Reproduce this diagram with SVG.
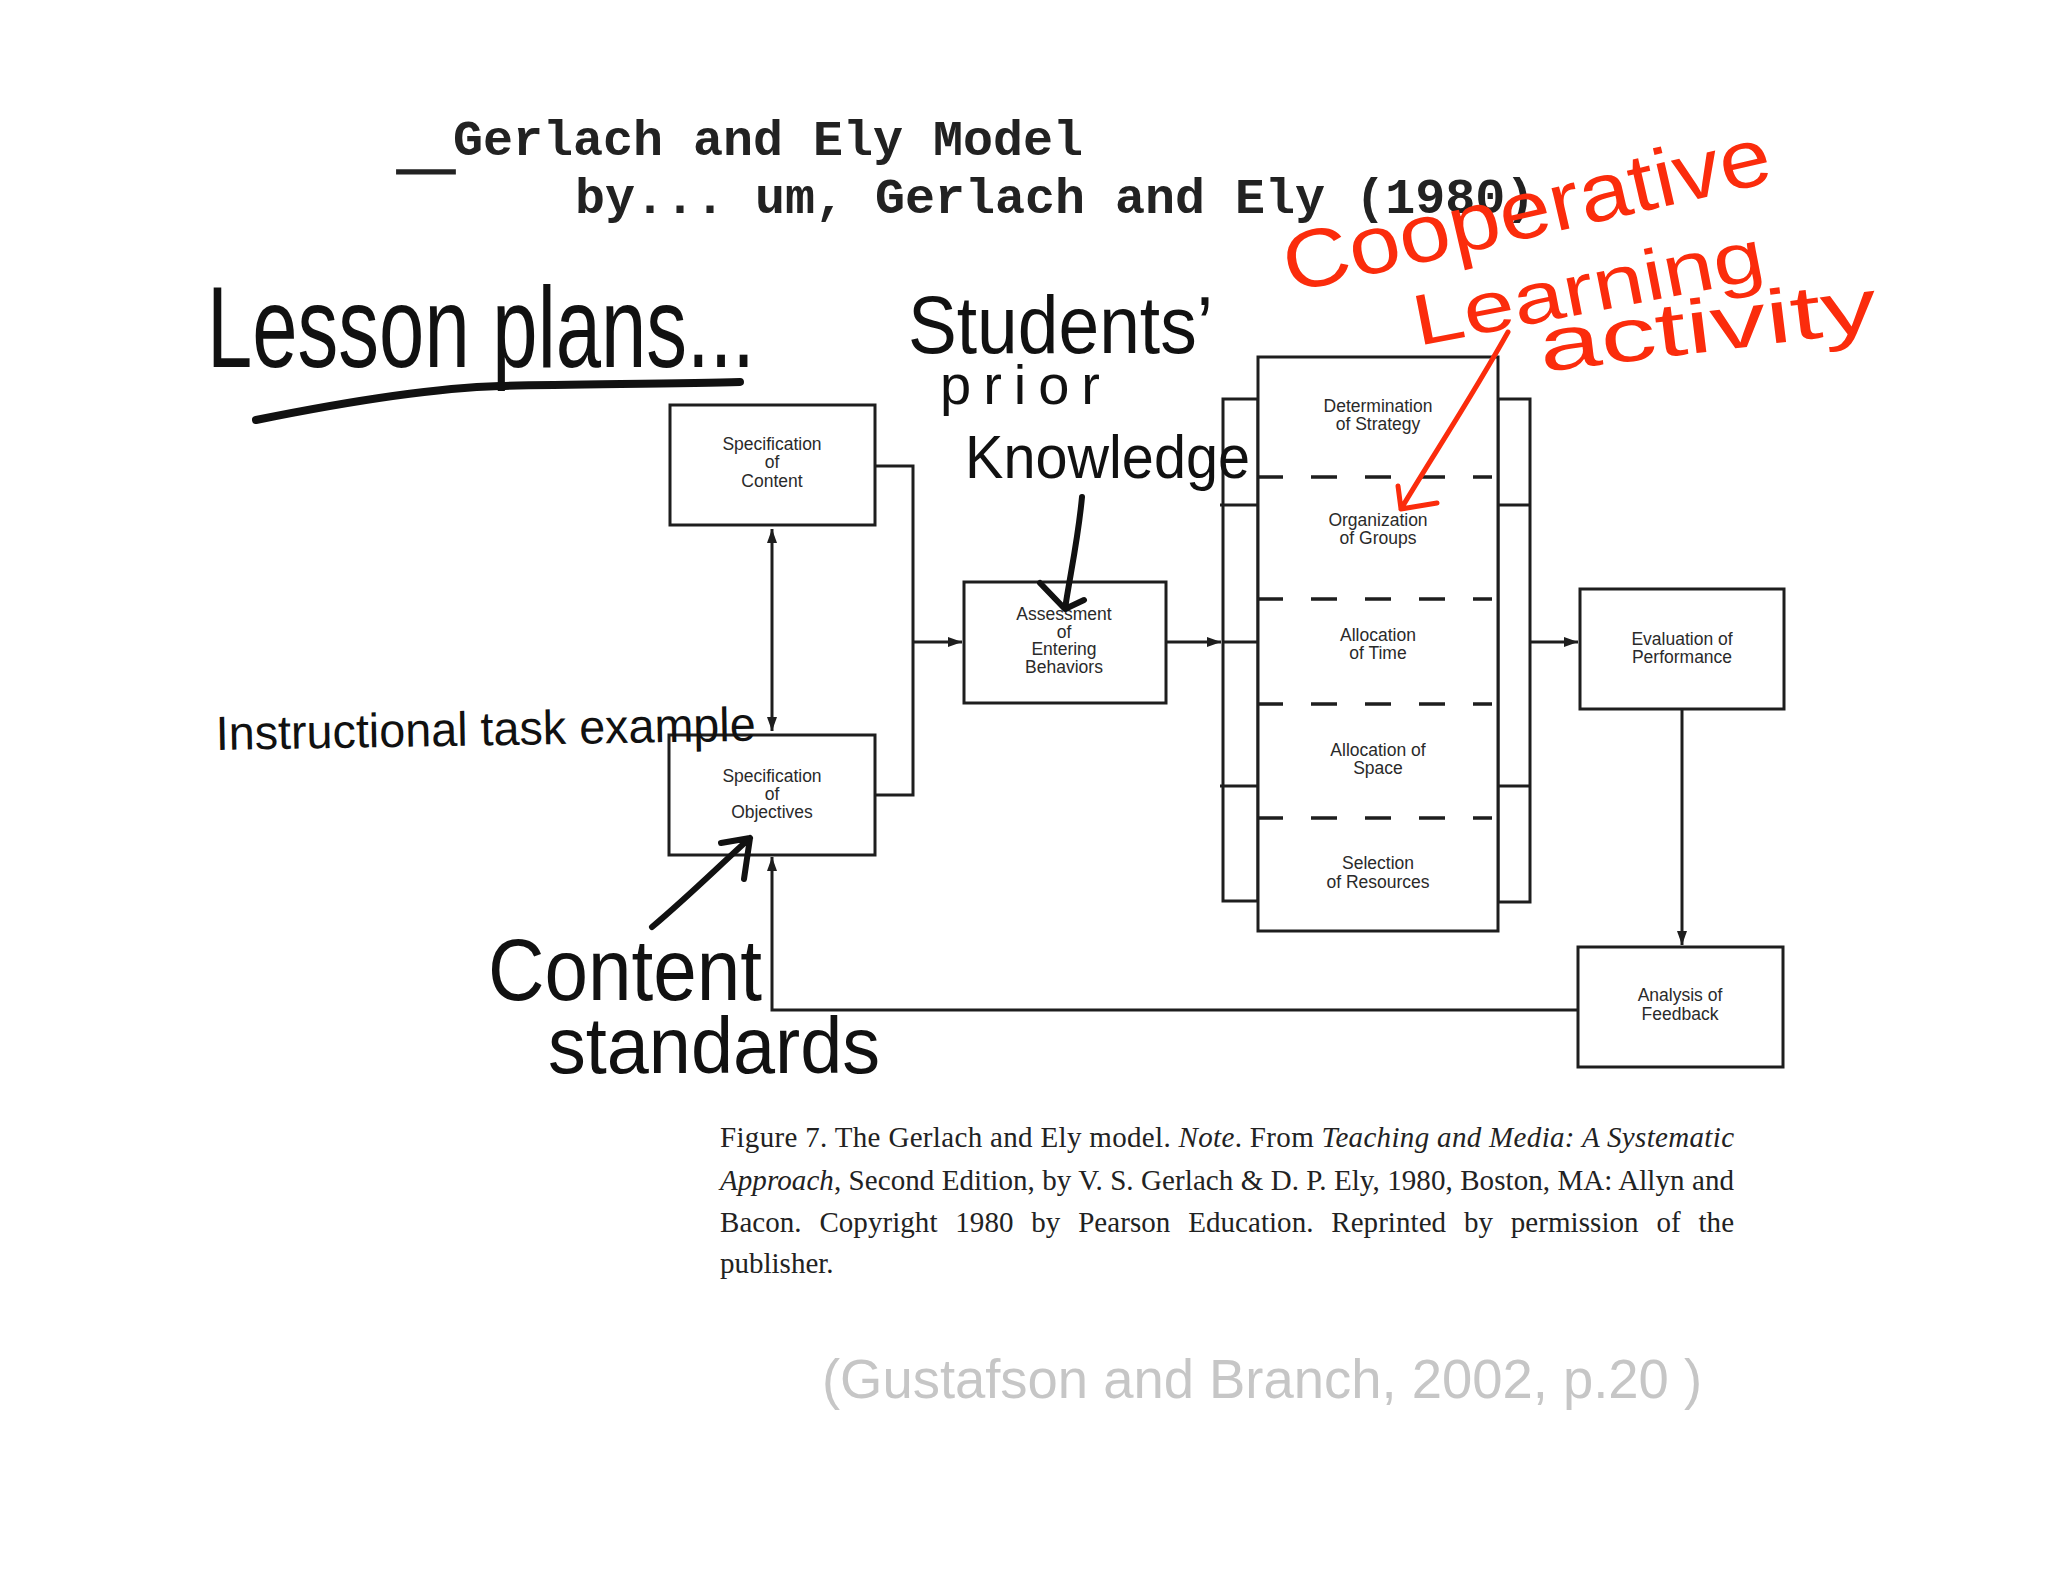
<svg xmlns="http://www.w3.org/2000/svg" width="2048" height="1582" viewBox="0 0 2048 1582">
<style>
.box{fill:#fff;stroke:#1e1e1e;stroke-width:3}
.lbl{font-family:"Liberation Sans",Arial,sans-serif;font-size:17.5px;fill:#2a2a2a;text-anchor:middle}
.con{fill:none;stroke:#1e1e1e;stroke-width:3}
.dash{stroke:#1e1e1e;stroke-width:3.5;stroke-dasharray:26 28}
.mono{font-family:"Liberation Mono","Courier New",monospace;font-weight:bold;font-size:50px;fill:#222}
.hand{font-family:"Liberation Sans",Arial,sans-serif;fill:#111}
.red{fill:#fb2c0c;font-family:"Liberation Sans",Arial,sans-serif}
.ink{fill:none;stroke:#111;stroke-linecap:round;stroke-linejoin:round}
.rink{fill:none;stroke:#fb2c0c;stroke-linecap:round;stroke-linejoin:round}
.cap{font-family:"Liberation Serif","Times New Roman",serif;font-size:29px;fill:#222}
</style>
<defs>
<marker id="ah" viewBox="0 0 14 10" refX="14" refY="5" markerWidth="14" markerHeight="10" markerUnits="userSpaceOnUse" orient="auto-start-reverse">
<path d="M0,0 L14,5 L0,10 z" fill="#1e1e1e"/>
</marker>
</defs>
<rect width="2048" height="1582" fill="#fff"/>

<g id="title">
<text class="mono" x="399" y="168" textLength="54" lengthAdjust="spacingAndGlyphs" stroke="#222" stroke-width="3">_</text>
<text class="mono" x="453" y="155">Gerlach and Ely Model</text>
<text class="mono" x="575" y="213">by... um, Gerlach and Ely (1980)</text>
</g>

<g id="connectors">
<path class="con" d="M772,529 V731" marker-start="url(#ah)" marker-end="url(#ah)"/>
<path class="con" d="M875,466 H913 V795 H875"/>
<path class="con" d="M913,642 H962" marker-end="url(#ah)"/>
<path class="con" d="M1166,642 H1221" marker-end="url(#ah)"/>
<path class="con" d="M1498,642 H1578" marker-end="url(#ah)"/>
<path class="con" d="M1682,709 V945" marker-end="url(#ah)"/>
<path class="con" d="M1578,1010 H772 V857" marker-end="url(#ah)"/>
</g>

<g id="node-content">
<rect class="box" x="670" y="405" width="205" height="120"/>
<text class="lbl" x="772" y="450">Specification</text>
<text class="lbl" x="772" y="468">of</text>
<text class="lbl" x="772" y="487">Content</text>
</g>

<g id="node-objectives">
<rect class="box" x="669" y="735" width="206" height="120"/>
<text class="lbl" x="772" y="782">Specification</text>
<text class="lbl" x="772" y="800">of</text>
<text class="lbl" x="772" y="818">Objectives</text>
</g>

<g id="node-assessment">
<rect class="box" x="964" y="582" width="202" height="121"/>
<text class="lbl" x="1064" y="620">Assessment</text>
<text class="lbl" x="1064" y="638">of</text>
<text class="lbl" x="1064" y="655">Entering</text>
<text class="lbl" x="1064" y="673">Behaviors</text>
</g>

<g id="node-strategy-block">
<rect class="box" x="1223" y="399" width="35" height="502"/>
<rect class="box" x="1498" y="399" width="32" height="503"/>
<path class="con" d="M1220,505 H1258 M1220,786 H1258 M1498,505 H1530 M1498,786 H1530 M1223,642 H1258"/>
<rect class="box" x="1258" y="357" width="240" height="574"/>
<path class="dash" d="M1257,477 H1492 M1257,599 H1492 M1257,704 H1492 M1257,818 H1492"/>
<g id="sec-strategy"><text class="lbl" x="1378" y="412">Determination</text><text class="lbl" x="1378" y="430">of Strategy</text></g>
<g id="sec-groups"><text class="lbl" x="1378" y="526">Organization</text><text class="lbl" x="1378" y="544">of Groups</text></g>
<g id="sec-time"><text class="lbl" x="1378" y="641">Allocation</text><text class="lbl" x="1378" y="659">of Time</text></g>
<g id="sec-space"><text class="lbl" x="1378" y="756">Allocation of</text><text class="lbl" x="1378" y="774">Space</text></g>
<g id="sec-resources"><text class="lbl" x="1378" y="869">Selection</text><text class="lbl" x="1378" y="888">of Resources</text></g>
</g>

<g id="node-evaluation">
<rect class="box" x="1580" y="589" width="204" height="120"/>
<text class="lbl" x="1682" y="645">Evaluation of</text>
<text class="lbl" x="1682" y="663">Performance</text>
</g>

<g id="node-analysis">
<rect class="box" x="1578" y="947" width="205" height="120"/>
<text class="lbl" x="1680" y="1001">Analysis of</text>
<text class="lbl" x="1680" y="1020">Feedback</text>
</g>

<g id="annotations">
<text class="hand" x="207" y="367" font-size="115" textLength="548" lengthAdjust="spacingAndGlyphs">Lesson plans...</text>
<path class="ink" stroke-width="8" d="M256,420 C330,405 430,388 500,386 S680,384 740,382"/>

<text class="hand" x="908" y="353" font-size="82" textLength="305" lengthAdjust="spacingAndGlyphs">Students’</text>
<text class="hand" x="940" y="404" font-size="56" textLength="160" lengthAdjust="spacing">prior</text>
<text class="hand" x="965" y="478" font-size="62" textLength="285" lengthAdjust="spacingAndGlyphs">Knowledge</text>
<path class="ink" stroke-width="6" d="M1082,497 C1078,540 1070,575 1065,609 M1040,583 L1065,609 L1084,600"/>

<text class="red" x="1290" y="293" font-size="82" textLength="498" lengthAdjust="spacingAndGlyphs" transform="rotate(-13 1290 293)">Cooperative</text>
<text class="red" x="1418" y="346" font-size="72" textLength="356" lengthAdjust="spacingAndGlyphs" transform="rotate(-11 1418 346)">Learning</text>
<text class="red" x="1542" y="372" font-size="76" textLength="340" lengthAdjust="spacingAndGlyphs" transform="rotate(-7 1542 372)">activity</text>
<path class="rink" stroke-width="5" d="M1508,332 C1470,400 1430,460 1401,509 M1398,486 L1401,509 L1437,503"/>

<text class="hand" x="216" y="750" font-size="48" textLength="540" lengthAdjust="spacingAndGlyphs" transform="rotate(-1 216 750)">Instructional task example</text>

<text class="hand" x="488" y="1000" font-size="88" textLength="274" lengthAdjust="spacingAndGlyphs">Content</text>
<text class="hand" x="548" y="1073" font-size="80" textLength="332" lengthAdjust="spacingAndGlyphs">standards</text>
<path class="ink" stroke-width="6" d="M652,927 C690,895 720,865 750,838 M721,843 L750,838 L744,879"/>

<text x="822" y="1398" font-family="'Liberation Sans',Arial,sans-serif" font-size="56" fill="#c6c6c6" textLength="880" lengthAdjust="spacingAndGlyphs">(Gustafson and Branch, 2002, p.20 )</text>
</g>

<g id="caption">
<text class="cap" x="720" y="1147" textLength="1014">Figure 7. The Gerlach and Ely model. <tspan font-style="italic">Note</tspan>. From <tspan font-style="italic">Teaching and Media: A Systematic</tspan></text>
<text class="cap" x="720" y="1190" textLength="1014"><tspan font-style="italic">Approach</tspan>, Second Edition, by V. S. Gerlach &amp; D. P. Ely, 1980, Boston, MA: Allyn and</text>
<text class="cap" x="720" y="1232" word-spacing="10.5" textLength="1014">Bacon. Copyright 1980 by Pearson Education. Reprinted by permission of the</text>
<text class="cap" x="720" y="1273">publisher.</text>
</g>
</svg>
